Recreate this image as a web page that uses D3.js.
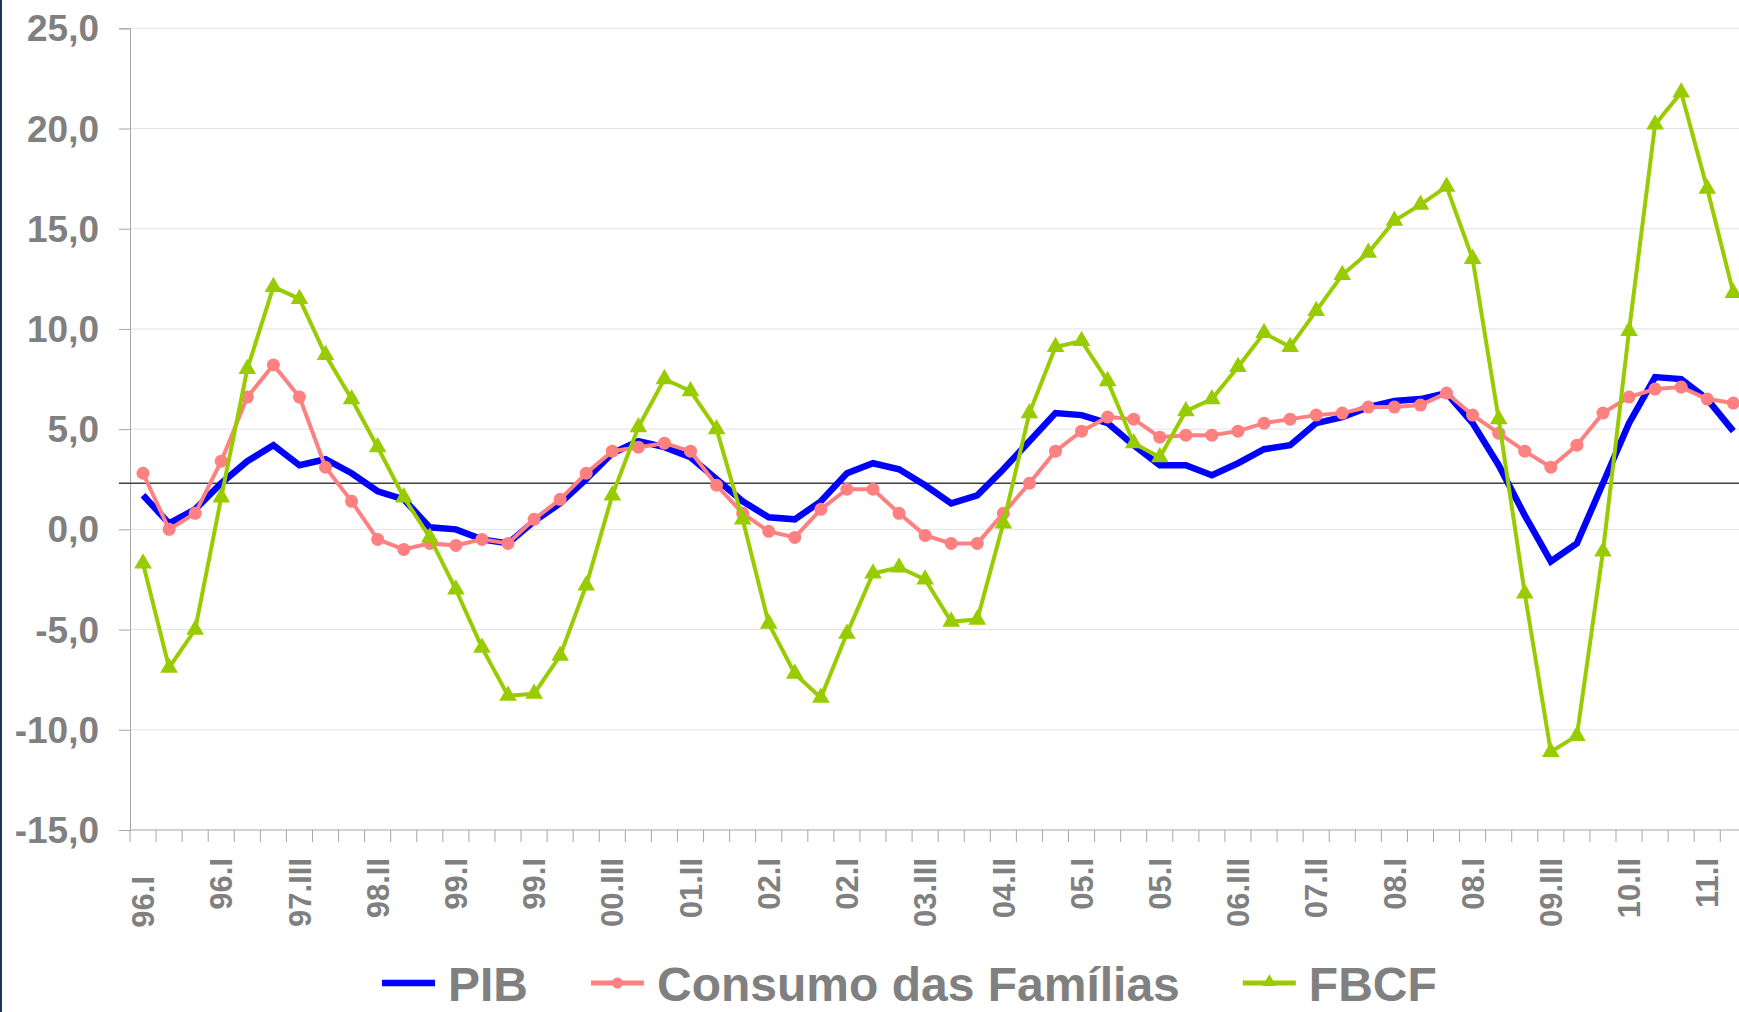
<!DOCTYPE html>
<html>
<head>
<meta charset="utf-8">
<script src="https://cdn.jsdelivr.net/npm/d3@7"></script>
<style>
  body { margin: 0; background: #fff; }
  svg { display: block; }
  text { font-family: "Liberation Sans", Arial, sans-serif; font-weight: bold; fill: #808080; }
</style>
</head>
<body>
<div id="chart"></div>
<script>
var quarters = ["96.I","96.II","96.III","96.IV","97.I","97.II","97.III","97.IV","98.I","98.II","98.III","98.IV",
  "99.I","99.II","99.III","99.IV","00.I","00.II","00.III","00.IV","01.I","01.II","01.III","01.IV",
  "02.I","02.II","02.III","02.IV","03.I","03.II","03.III","03.IV","04.I","04.II","04.III","04.IV",
  "05.I","05.II","05.III","05.IV","06.I","06.II","06.III","06.IV","07.I","07.II","07.III","07.IV",
  "08.I","08.II","08.III","08.IV","09.I","09.II","09.III","09.IV","10.I","10.II","10.III","10.IV",
  "11.I","11.II"];

// labels as they appear under every third quarter
var tickLabels = ["96.I","96.I","97.III","98.II","99.I","99.I","00.III","01.II","02.I","02.I","03.III",
  "04.II","05.I","05.I","06.III","07.II","08.I","08.I","09.III","10.II","11.I"];

var pib = [1.7, 0.3, 1.0, 2.3, 3.4, 4.2, 3.2, 3.5, 2.8, 1.9,
  1.5, 0.1, 0.0, -0.5, -0.7, 0.4, 1.3, 2.5, 3.8, 4.4,
  4.1, 3.6, 2.5, 1.4, 0.6, 0.5, 1.4, 2.8, 3.3, 3.0,
  2.2, 1.3, 1.7, 3.0, 4.4, 5.8, 5.7, 5.3, 4.2, 3.2,
  3.2, 2.7, 3.3, 4.0, 4.2, 5.3, 5.6, 6.1, 6.4, 6.5,
  6.8, 5.3, 3.2, 0.7, -1.6, -0.7, 2.3, 5.3, 7.6, 7.5,
  6.5, 4.9];

var consumo = [2.8, 0.0, 0.8, 3.4, 6.6, 8.2, 6.6, 3.1, 1.4, -0.5,
  -1.0, -0.7, -0.8, -0.5, -0.7, 0.5, 1.5, 2.8, 3.9, 4.1,
  4.3, 3.9, 2.2, 0.8, -0.1, -0.4, 1.0, 2.0, 2.0, 0.8,
  -0.3, -0.7, -0.7, 0.8, 2.3, 3.9, 4.9, 5.6, 5.5, 4.6,
  4.7, 4.7, 4.9, 5.3, 5.5, 5.7, 5.8, 6.1, 6.1, 6.2,
  6.8, 5.7, 4.8, 3.9, 3.1, 4.2, 5.8, 6.6, 7.0, 7.1,
  6.5, 6.3];

var fbcf = [-1.7, -6.9, -5.0, 1.6, 8.0, 12.1, 11.5, 8.7, 6.5, 4.1,
  1.6, -0.4, -3.0, -5.9, -8.3, -8.2, -6.3, -2.8, 1.7, 5.1,
  7.5, 6.9, 5.0, 0.5, -4.7, -7.2, -8.4, -5.2, -2.2, -1.9,
  -2.5, -4.6, -4.5, 0.3, 5.8, 9.1, 9.4, 7.4, 4.3, 3.6,
  5.9, 6.5, 8.1, 9.8, 9.1, 10.9, 12.7, 13.8, 15.4, 16.2,
  17.1, 13.5, 5.5, -3.2, -11.1, -10.3, -1.1, 9.9, 20.2, 21.8,
  17.0, 11.8];

var mediaLine = 2.3;   // horizontal reference line
var yTicks = [-15, -10, -5, 0, 5, 10, 15, 20, 25];

var width = 1739, height = 1012;
var left = 130, step = 26.07;

var svg = d3.select("#chart").append("svg")
  .attr("width", width)
  .attr("height", height);

var x = d3.scaleBand()
  .domain(quarters)
  .range([left, left + step * quarters.length])
  .padding(0);
var y = d3.scaleLinear()
  .domain([-15, 25])
  .range([830, 28.3]);
var bw = x.bandwidth();

var br = d3.formatLocale({decimal: ",", thousands: ".", grouping: [3], currency: ["R$", ""], minus: "-"});
var fmt = br.format(".1f");

// left border strip
svg.append("rect").attr("x", 0).attr("y", 0).attr("width", 2).attr("height", height).attr("fill", "#17375e");

// gridlines
svg.append("g").selectAll("line")
  .data(yTicks.filter(function(d) { return d > -15; }))
  .enter().append("line")
  .attr("x1", left).attr("x2", width)
  .attr("y1", function(d) { return y(d); })
  .attr("y2", function(d) { return y(d); })
  .attr("stroke", "#e2e2e2")
  .attr("stroke-width", 1);

// y axis
var yAxis = svg.append("g")
  .attr("transform", "translate(" + left + ",0)")
  .call(d3.axisLeft(y).tickValues(yTicks).tickSize(11).tickPadding(20).tickFormat(fmt));
yAxis.select(".domain").attr("stroke", "#a6a6a6");
yAxis.selectAll(".tick line").attr("stroke", "#a6a6a6");
yAxis.selectAll(".tick text")
  .attr("font-size", 37)
  .attr("font-family", "Liberation Sans, Arial, sans-serif")
  .attr("fill", "#808080")
  .attr("dy", "0.34em");

// x axis line and ticks at quarter boundaries
var xEnd = left + step * quarters.length;
svg.append("line")
  .attr("x1", left).attr("x2", xEnd)
  .attr("y1", y(-15)).attr("y2", y(-15))
  .attr("stroke", "#a6a6a6");
svg.append("g").selectAll("line")
  .data(d3.range(quarters.length + 1))
  .enter().append("line")
  .attr("x1", function(i) { return left + i * step; })
  .attr("x2", function(i) { return left + i * step; })
  .attr("y1", y(-15)).attr("y2", y(-15) + 12)
  .attr("stroke", "#a6a6a6");

var labelled = quarters.filter(function(d, i) { return i % 3 == 0; });
svg.append("g").selectAll("text")
  .data(labelled)
  .enter().append("text")
  .attr("transform", function(d, i) {
    var ty = i == 0 ? 876 : 858; // first label sits lower in the original
    return "translate(" + (x(d) + bw / 2) + "," + ty + ") rotate(-90)";
  })
  .attr("text-anchor", "end")
  .attr("dy", "0.36em")
  .attr("font-size", 31)
  .text(function(d, i) { return tickLabels[i]; });

// reference line
svg.append("line")
  .attr("x1", 119).attr("x2", width)
  .attr("y1", y(mediaLine)).attr("y2", y(mediaLine))
  .attr("stroke", "#404040")
  .attr("stroke-width", 1.5);

var line = d3.line()
  .x(function(d, i) { return x(quarters[i]) + bw / 2; })
  .y(function(d) { return y(d); });

var series = [
  {name: "PIB", values: pib, color: "#0000ff", width: 6.5, marker: null},
  {name: "Consumo das Famílias", values: consumo, color: "#ff8080", width: 4, marker: "circle"},
  {name: "FBCF", values: fbcf, color: "#99cc00", width: 4, marker: "triangle"}
];

var tri = d3.symbol().type(d3.symbolTriangle).size(135);
var triSmall = d3.symbol().type(d3.symbolTriangle).size(80);

series.forEach(function(s) {
  svg.append("path")
    .attr("d", line(s.values))
    .attr("fill", "none")
    .attr("stroke", s.color)
    .attr("stroke-width", s.width)
    .attr("stroke-linejoin", "miter");
  if (s.marker == "circle") {
    svg.append("g").selectAll("circle")
      .data(s.values)
      .enter().append("circle")
      .attr("cx", function(d, i) { return x(quarters[i]) + bw / 2; })
      .attr("cy", function(d) { return y(d); })
      .attr("r", 6.5)
      .attr("fill", s.color);
  } else if (s.marker == "triangle") {
    svg.append("g").selectAll("path")
      .data(s.values)
      .enter().append("path")
      .attr("d", tri)
      .attr("transform", function(d, i) { return "translate(" + (x(quarters[i]) + bw / 2) + "," + y(d) + ")"; })
      .attr("fill", s.color);
  }
});

// legend
var lx = 382, ly = 983;
series.forEach(function(s) {
  var g = svg.append("g").attr("transform", "translate(" + lx + "," + ly + ")");
  g.append("line")
    .attr("x1", 0).attr("x2", 53)
    .attr("stroke", s.color)
    .attr("stroke-width", s.marker ? 5 : 6.5);
  if (s.marker == "circle") {
    g.append("circle").attr("cx", 26.5).attr("r", 5.5).attr("fill", s.color);
  } else if (s.marker == "triangle") {
    g.append("path").attr("d", triSmall).attr("transform", "translate(26.5,-1)").attr("fill", s.color);
  }
  var t = g.append("text")
    .attr("x", 66).attr("y", 18)
    .attr("font-size", 48)
    .text(s.name);
  lx += 66 + t.node().getComputedTextLength() + 63;
});
</script>
</body>
</html>
